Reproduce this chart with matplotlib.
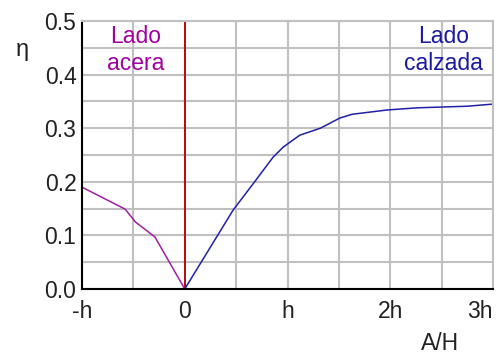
import matplotlib
matplotlib.use("Agg")
import matplotlib.pyplot as plt

# lado acera (purple)
x_acera = [-1.0, -0.58, -0.48, -0.29, 0.0]
y_acera = [0.19, 0.149, 0.125, 0.097, 0.0]

# lado calzada (blue)
x_calzada = [0.0, 0.47, 0.68, 0.86, 0.96, 1.12, 1.32, 1.51, 1.63, 1.97, 2.26, 2.75, 3.0]
y_calzada = [0.0, 0.147, 0.2, 0.246, 0.265, 0.287, 0.30, 0.319, 0.326, 0.334, 0.338, 0.341, 0.345]

xticks = [-1, 0, 1, 2, 3]
xticklabels = ["-h", "0", "h", "2h", "3h"]
yticks = [0.0, 0.1, 0.2, 0.3, 0.4, 0.5]

plt.rcParams['font.family'] = ['Liberation Sans', 'DejaVu Sans']
FS = 16.5

fig = plt.figure(figsize=(4.99, 3.56), dpi=100)
ax = fig.add_axes([82 / 499, 1 - 289 / 356, 411 / 499, 268 / 356])

ax.set_xlim(-1, 3)
ax.set_ylim(0, 0.5)
ax.set_xticks(xticks)
ax.set_xticks([-0.5, 0.5, 1.5, 2.5], minor=True)
ax.set_xticklabels(xticklabels)
ax.set_yticks(yticks)
ax.set_yticks([0.05, 0.15, 0.25, 0.35, 0.45], minor=True)
ax.set_yticklabels([f"{v:.1f}" for v in yticks])
ax.grid(True, which='both', color='#c0c0c0', linewidth=1.5)
ax.set_axisbelow(True)
ax.tick_params(which='both', length=0, labelsize=FS, colors='#222222')
ax.tick_params(axis='x', pad=8)
ax.tick_params(axis='y', pad=4)
labels = ax.get_xticklabels()
labels[-1].set_horizontalalignment('right')
labels[-1].set_x(3.04)

for s in ['top', 'right']:
    ax.spines[s].set_color('#c0c0c0')
    ax.spines[s].set_linewidth(1.5)
for s in ['left', 'bottom']:
    ax.spines[s].set_color('black')
    ax.spines[s].set_linewidth(1.5)

ax.axvline(0, color='#b00000', linewidth=1.3)
ax.plot(x_acera, y_acera, color='#a020a0', linewidth=1.1)
ax.plot(x_calzada, y_calzada, color='#2020a8', linewidth=1.1)

ax.text(-0.48, 0.492, "Lado\nacera", color='#a000a0', fontsize=FS, ha='center', va='top')
ax.text(2.52, 0.492, "Lado\ncalzada", color='#1a1aa0', fontsize=FS, ha='center', va='top')

fig.text(22 / 499, 1 - 50 / 356, "η", fontsize=17, ha='center', va='center', color='#222222')
fig.text(440 / 499, 1 - 343 / 356, "A/H", fontsize=FS, ha='center', va='center', color='#222222')

fig.savefig("out.png", dpi=100)
